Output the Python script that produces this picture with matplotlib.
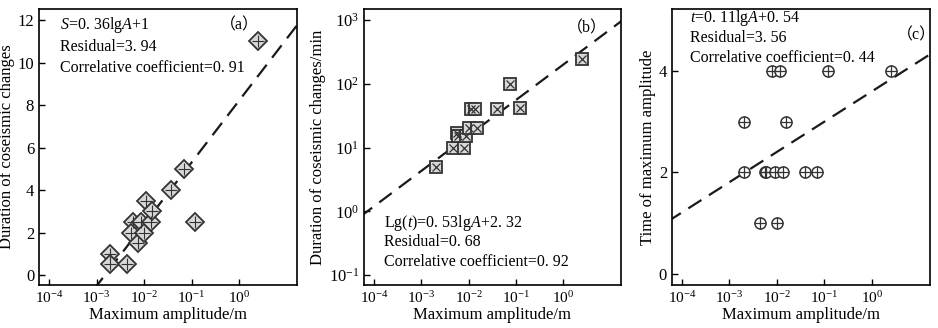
import numpy as np
import matplotlib
matplotlib.use("Agg")
import matplotlib.pyplot as plt

plt.rcParams["font.family"] = ["Liberation Serif", "Noto Sans CJK SC"]
plt.rcParams["mathtext.fontset"] = "custom"
plt.rcParams["mathtext.rm"] = "Liberation Serif"
plt.rcParams["mathtext.it"] = "Liberation Serif:italic"
plt.rcParams["font.size"] = 11

# (a) duration of coseismic changes vs maximum amplitude
amp_a = [1.9e-3, 1.9e-3, 4.4e-3, 5.8e-3, 5.4e-3, 8.8e-3, 7.4e-3, 9.8e-3,
         1.1e-2, 1.4e-2, 1.5e-2, 3.7e-2, 0.12, 0.071, 2.55]
dur_a = [1, 0.5, 0.5, 2.5, 2, 2.5, 1.5, 2, 3.5, 2.5, 3, 4, 2.5, 5, 11]
fit_a = (2.91, 8.21)   # slope, intercept in lgA

# (b) duration in minutes (log)
amp_b = [2.1e-3, 4.6e-3, 8.1e-3, 5.6e-3, 6.1e-3, 8.9e-3, 1.0e-2, 1.5e-2,
         1.15e-2, 1.35e-2, 3.9e-2, 0.074, 0.12, 2.46]
dur_b = [5, 10, 10, 17, 15, 15, 20, 20, 40, 40, 40, 100, 42, 245]
fit_b = (0.556, 2.30)  # lg(t) = slope*lgA + intercept

# (c) time of maximum amplitude
amp_c = [2e-3, 1.55e-2, 2e-3, 5.5e-3, 6e-3, 9.3e-3, 1.37e-2, 3.8e-2, 0.071,
         4.4e-3, 1e-2, 7.9e-3, 1.17e-2, 0.12, 2.46]
tim_c = [3, 3, 2, 2, 2, 2, 2, 2, 2, 1, 1, 4, 4, 4, 4]
fit_c = (0.597, 3.60)

xlim = (10 ** -4.21, 10 ** 1.22)
xticks = [1e-4, 1e-3, 1e-2, 1e-1, 1e0]

fig = plt.figure(figsize=(9.38, 3.28), dpi=100)
ax_a = fig.add_axes([0.0416, 0.131, 0.275, 0.841])
ax_b = fig.add_axes([0.388, 0.131, 0.274, 0.841])
ax_c = fig.add_axes([0.7164, 0.131, 0.275, 0.841])

lx = np.logspace(-4.3, 1.3, 50)
dash = (0, (7, 4))
ink = "#1a1a1a"
fs = 11.5

for ax in (ax_a, ax_b, ax_c):
    ax.set_xscale("log")
    ax.set_xlim(*xlim)
    ax.set_xticks(xticks)
    ax.minorticks_off()
    ax.tick_params(direction="in", length=4, width=1)
    ax.tick_params(axis="x", labelsize=11)
    ax.tick_params(axis="y", labelsize=12)
    for s in ax.spines.values():
        s.set_linewidth(1.2)
    ax.set_xlabel("Maximum amplitude/m", fontsize=12, labelpad=1)

# (a)
ax_a.plot(lx, fit_a[0] * np.log10(lx) + fit_a[1], color=ink, lw=1.6, ls=dash)
ax_a.plot(amp_a, dur_a, "D", ms=9, mfc="#d8d8d8", mec="#333333", mew=1.3)
ax_a.plot(amp_a, dur_a, "+", ms=9, color="#333333", mew=0.8)
ax_a.set_ylim(-0.47, 12.52)
ax_a.set_yticks([0, 2, 4, 6, 8, 10, 12])
ax_a.set_ylabel("Duration of coseismic changes", fontsize=12, labelpad=2)
ax_a.text(0.081, 0.942, "$S$=0. 36lg$A$+1", transform=ax_a.transAxes, va="center", fontsize=fs)
ax_a.text(0.081, 0.862, "Residual=3. 94", transform=ax_a.transAxes, va="center", fontsize=fs)
ax_a.text(0.081, 0.786, "Correlative coefficient=0. 91", transform=ax_a.transAxes, va="center", fontsize=fs)
ax_a.text(0.70, 0.942, "（a）", transform=ax_a.transAxes, va="center", fontsize=fs)

# (b)
ax_b.set_yscale("log")
ax_b.plot(lx, 10 ** (fit_b[0] * np.log10(lx) + fit_b[1]), color=ink, lw=1.6, ls=dash)
ax_b.plot(amp_b, dur_b, "s", ms=8, mfc="#d8d8d8", mec="#333333", mew=1.3)
ax_b.plot(amp_b, dur_b, "x", ms=6, color="#333333", mew=0.9)
ax_b.set_ylim(10 ** -1.157, 10 ** 3.17)
ax_b.set_yticks([1e-1, 1e0, 1e1, 1e2, 1e3])
ax_b.minorticks_off()
ax_b.set_ylabel("Duration of coseismic changes/min", fontsize=12, labelpad=2)
ax_b.text(0.078, 0.226, "Lg($t$)=0. 53lg$A$+2. 32", transform=ax_b.transAxes, va="center", fontsize=fs)
ax_b.text(0.078, 0.157, "Residual=0. 68", transform=ax_b.transAxes, va="center", fontsize=fs)
ax_b.text(0.078, 0.085, "Correlative coefficient=0. 92", transform=ax_b.transAxes, va="center", fontsize=fs)
ax_b.text(0.79, 0.93, "（b）", transform=ax_b.transAxes, va="center", fontsize=fs)

# (c)
ax_c.plot(lx, fit_c[0] * np.log10(lx) + fit_c[1], color=ink, lw=1.6, ls=dash)
ax_c.plot(amp_c, tim_c, "o", ms=8, mfc="white", mec="#333333", mew=1.1)
ax_c.plot(amp_c, tim_c, "+", ms=8, color="#333333", mew=0.9)
ax_c.set_ylim(-0.22, 5.22)
ax_c.set_yticks([0, 2, 4])
ax_c.set_ylabel("Time of maximum amplitude", fontsize=12, labelpad=2)
ax_c.text(0.07, 0.968, "$t$=0. 11lg$A$+0. 54", transform=ax_c.transAxes, va="center", fontsize=fs)
ax_c.text(0.07, 0.896, "Residual=3. 56", transform=ax_c.transAxes, va="center", fontsize=fs)
ax_c.text(0.07, 0.822, "Correlative coefficient=0. 44", transform=ax_c.transAxes, va="center", fontsize=fs)
ax_c.text(0.87, 0.905, "（c）", transform=ax_c.transAxes, va="center", fontsize=fs)

fig.savefig("out.png", dpi=100)
